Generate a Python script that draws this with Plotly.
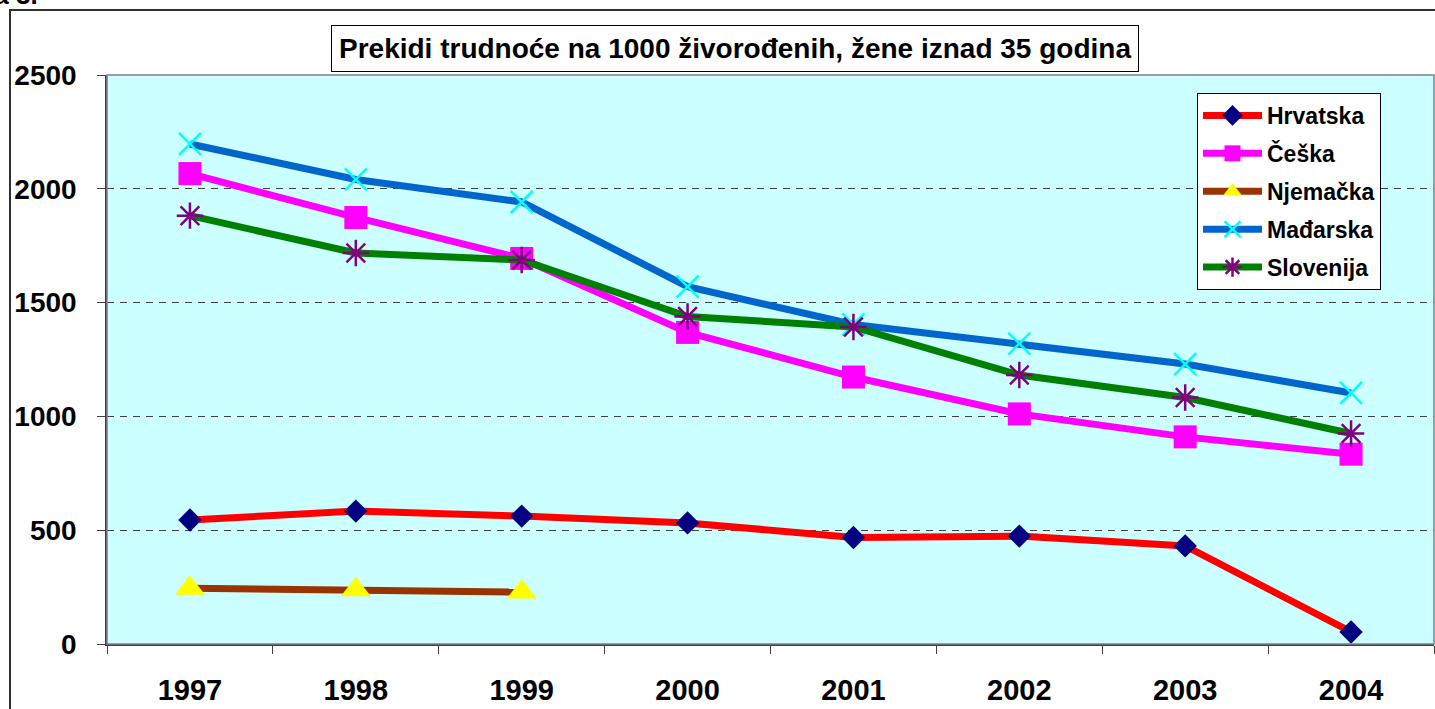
import plotly.graph_objects as go

years = ["1997", "1998", "1999", "2000", "2001", "2002", "2003", "2004"]
hrvatska = [545, 584, 562, 532, 468, 474, 431, 53]
ceska = [2067, 1874, 1694, 1369, 1173, 1011, 910, 834]
njemacka_years = ["1997", "1998", "1999"]
njemacka = [245, 238, 228]
madarska = [2197, 2041, 1942, 1570, 1404, 1320, 1230, 1103]
slovenija = [1882, 1718, 1687, 1439, 1393, 1182, 1083, 925]
y_ticks = [0, 500, 1000, 1500, 2000, 2500]

FONT = "Liberation Sans, Arial, sans-serif"

fig = go.Figure()

series = [
    ("Hrvatska", years, hrvatska, "#FF0000", dict(symbol="diamond", size=18, color="#000080")),
    ("Češka", years, ceska, "#FF00FF", dict(symbol="square", size=23, color="#FF00FF")),
    ("Njemačka", njemacka_years, njemacka, "#993300", dict(symbol="triangle-up", size=26, color="#FFFF00")),
    ("Mađarska", years, madarska, "#0066CC", dict(symbol="x-thin", size=22, color="#00FFFF",
                                                  line=dict(color="#00FFFF", width=2.5))),
    ("Slovenija", years, slovenija, "#008000", dict(symbol="asterisk", size=22, color="#800080",
                                                   line=dict(color="#800080", width=2.5))),
]
for i, (name, xs, ys, lc, mk) in enumerate(series):
    fig.add_trace(go.Scatter(
        x=xs, y=ys, name=name, mode="lines+markers",
        line=dict(color=lc, width=7),
        marker=mk, legendgroup=f"g{i}",
    ))

fig.update_layout(
    width=1435, height=709,
    margin=dict(l=107, r=1, t=75, b=65),
    paper_bgcolor="white",
    plot_bgcolor="#CCFFFF",
    font=dict(family=FONT, color="black"),
    showlegend=True,
    legend=dict(
        x=(1197 - 107) / 1327, y=(644 - 93) / 569, xanchor="left", yanchor="top",
        bgcolor="white", bordercolor="black", borderwidth=1,
        font=dict(family=FONT, size=23, color="black", weight="bold"),
        itemwidth=59, tracegroupgap=5,
    ),
    xaxis=dict(
        type="category", categoryorder="array", categoryarray=years,
        range=[-0.5, 7.5],
        showline=True, linecolor="#404040", linewidth=1.5,
        ticks="outside", ticklen=8, tickcolor="#404040", tickson="boundaries",
        showgrid=False, zeroline=False,
        tickfont=dict(family=FONT, size=29, color="black", weight="bold"),
        ticklabelstandoff=19,
    ),
    yaxis=dict(
        range=[0, 2500], tickvals=y_ticks,
        showline=True, linecolor="#404040", linewidth=1.5,
        ticks="outside", ticklen=8, tickcolor="#404040",
        showgrid=True, gridcolor="#404040", gridwidth=1, griddash="7px,6px",
        zeroline=False,
        tickfont=dict(family=FONT, size=28, color="black", weight="bold"),
        ticklabelstandoff=15,
    ),
)

# plot area border
fig.add_shape(type="rect", xref="paper", yref="paper", x0=0, x1=1, y0=0, y1=1,
              line=dict(color="#808080", width=1.5), layer="above")
# outer chart frame
fig.add_shape(type="rect", xref="paper", yref="paper",
              x0=(10 - 107) / 1327, x1=1.2, y0=-0.3, y1=(644 - 10) / 569,
              line=dict(color="#303030", width=2), layer="above")

# title box
fig.add_annotation(
    text="<b>Prekidi trudnoće na 1000 živorođenih, žene iznad 35 godina</b>",
    xref="paper", yref="paper", x=(735 - 107) / 1327, y=(644 - 48) / 569,
    xanchor="center", yanchor="middle", showarrow=False,
    font=dict(family=FONT, size=28, color="black"),
    bgcolor="white", bordercolor="black", borderwidth=1, borderpad=7,
)

# caption fragment at top-left (cut off by the top edge, as in the reference)
fig.add_annotation(
    text="<b>Slika 3.</b>", xref="paper", yref="paper",
    x=(40 - 107) / 1327, y=(644 - 12) / 569, xanchor="right", yanchor="bottom",
    showarrow=False, font=dict(family=FONT, size=26, color="black"),
)

fig.write_html("out.html", config={"displayModeBar": False},
               post_script="document.body.style.margin='0';document.body.style.overflow='hidden';")
